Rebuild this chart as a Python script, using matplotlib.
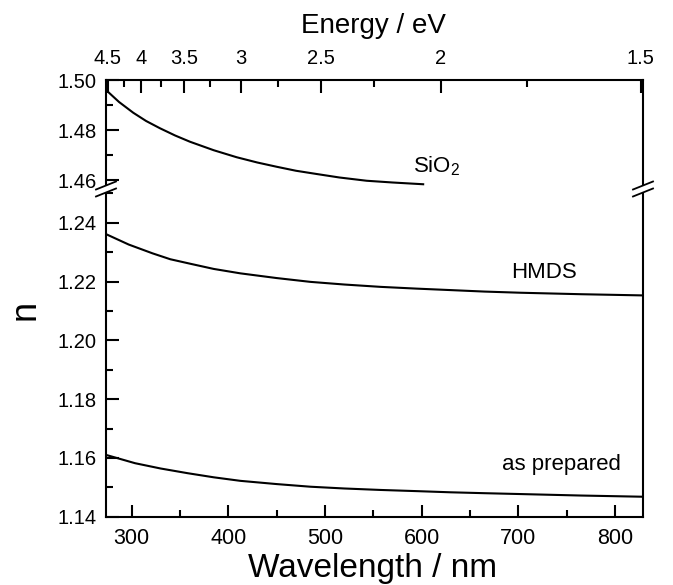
import numpy as np
import matplotlib
matplotlib.use('Agg')
import matplotlib.pyplot as plt
from matplotlib.ticker import MultipleLocator, FixedLocator
from matplotlib.patches import Polygon
from matplotlib.lines import Line2D

plt.rcParams['font.family'] = ['Liberation Sans', 'DejaVu Sans']
plt.rcParams['mathtext.fontset'] = 'custom'
plt.rcParams['mathtext.rm'] = 'Liberation Sans'
plt.rcParams['mathtext.it'] = 'Liberation Sans:italic'

sio2_wl = [273.5, 287, 301.7, 315, 329.3, 345, 360.4, 385, 408.7, 430, 450, 470, 491.4, 515, 543.1, 570, 601.6]
sio2_n = [1.4960, 1.4912, 1.4869, 1.4836, 1.4807, 1.4778, 1.4753, 1.4719, 1.4691, 1.4670, 1.4653, 1.4637,
          1.4624, 1.4610, 1.4597, 1.4590, 1.4583]

hmds_wl = [273.8, 297, 321.7, 340, 361.6, 385, 412.5, 450, 485, 520, 557.6, 595, 630.2, 665, 702.7, 765, 827.9]
hmds_n = [1.2361, 1.2326, 1.2296, 1.2276, 1.2260, 1.2243, 1.2228, 1.2212, 1.2199, 1.2190, 1.2182, 1.2176,
          1.2171, 1.2166, 1.2162, 1.2157, 1.2153]

prep_wl = [273.8, 303.6, 330, 358, 385, 412.5, 450, 485, 520, 557.6, 595, 630.2, 665, 702.7, 765, 827.9]
prep_n = [1.1610, 1.1582, 1.1564, 1.1548, 1.1534, 1.1522, 1.1511, 1.1502, 1.1496, 1.1491, 1.1487, 1.1483,
          1.1480, 1.1477, 1.1472, 1.1468]

energy_major = [4.5, 4, 3.5, 3, 2.5, 2, 1.5]
energy_labels = ['4.5', '4', '3.5', '3', '2.5', '2', '1.5']
energy_minor = [4.25, 3.75, 3.25, 2.75, 2.25, 1.75]

W, H = 673, 585
fig = plt.figure(figsize=(W / 100, H / 100), dpi=100)

def fx(px):
    return px / W

def fy(py):
    return 1 - py / H

left, right, top, brk, bottom = 106, 643, 80, 189, 516.7
ax_bot = fig.add_axes([fx(left), fy(bottom), fx(right) - fx(left), fy(brk) - fy(bottom)])
ax_top = fig.add_axes([fx(left), fy(brk), fx(right) - fx(left), fy(top) - fy(brk)])

lw = 1.5
xlim = (273.5, 829)

# energy scale on top (twiny first, it resets the bottom ticks of ax_top)
ax_e = ax_top.twiny()

for ax in (ax_bot, ax_top):
    ax.set_xlim(*xlim)
    for s in ax.spines.values():
        s.set_linewidth(lw)
    ax.tick_params(which='both', direction='in', width=lw, labelsize=14.5, right=False)
    ax.tick_params(which='major', length=9)
    ax.tick_params(which='minor', length=5)
    ax.tick_params(axis='y', pad=7)

ax_bot.spines['top'].set_visible(False)
ax_top.spines['bottom'].set_visible(False)

ax_bot.plot(hmds_wl, hmds_n, color='black', lw=lw)
ax_bot.plot(prep_wl, prep_n, color='black', lw=lw)
ax_top.plot(sio2_wl, sio2_n, color='black', lw=lw)

ax_bot.set_ylim(1.14, 1.2515)
ax_bot.yaxis.set_major_locator(FixedLocator([1.14, 1.16, 1.18, 1.20, 1.22, 1.24]))
ax_bot.yaxis.set_minor_locator(FixedLocator([1.15, 1.17, 1.19, 1.21, 1.23, 1.25]))
ax_bot.yaxis.set_major_formatter(plt.FormatStrFormatter('%.2f'))
ax_bot.xaxis.set_major_locator(MultipleLocator(100))
ax_bot.xaxis.set_minor_locator(MultipleLocator(50))
ax_bot.tick_params(axis='x', which='both', top=False, pad=8, labelsize=15.5)

ax_top.set_ylim(1.4564, 1.50)
ax_top.yaxis.set_major_locator(FixedLocator([1.46, 1.48, 1.50]))
ax_top.yaxis.set_minor_locator(FixedLocator([1.47, 1.49]))
ax_top.yaxis.set_major_formatter(plt.FormatStrFormatter('%.2f'))
ax_top.tick_params(axis='x', which='both', bottom=False, top=False, labelbottom=False, labeltop=False)

ax_e.set_xlim(*xlim)
ax_e.set_xticks([1240 / e for e in energy_major])
ax_e.set_xticklabels(energy_labels)
ax_e.set_xticks([1240 / e for e in energy_minor], minor=True)
ax_e.tick_params(which='both', direction='in', width=lw, labelsize=14.5, pad=9, bottom=False)
ax_e.tick_params(which='major', length=9)
ax_e.tick_params(which='minor', length=5)
for s in ax_e.spines.values():
    s.set_visible(False)

# curve labels
ax_top.text(615, 1.4656, 'SiO$_2$', fontsize=16, ha='center', va='center')
ax_bot.text(727, 1.2232, 'HMDS', fontsize=16, ha='center', va='center')
ax_bot.text(745, 1.1579, 'as prepared', fontsize=16, ha='center', va='center')

# axis titles
fig.text(fx(373), fy(576.7), 'Wavelength / nm', fontsize=24, ha='center', va='baseline')
fig.text(fx(373), fy(33.3), 'Energy / eV', fontsize=20, ha='center', va='baseline')
fig.text(fx(25), fy(310), 'n', fontsize=26, ha='center', va='center', rotation=90)

# break marks
for cx in (left, right):
    dx, dy, off = 10, 4, 3.5
    poly = Polygon([(fx(cx - dx), fy(brk - off + dy)), (fx(cx + dx), fy(brk - off - dy)),
                    (fx(cx + dx), fy(brk + off - dy)), (fx(cx - dx), fy(brk + off + dy))],
                   closed=True, transform=fig.transFigure, facecolor='white', edgecolor='none', zorder=10)
    fig.patches.append(poly)
    for o in (-off, off):
        fig.lines.append(Line2D([fx(cx - dx), fx(cx + dx)], [fy(brk + o + dy), fy(brk + o - dy)],
                                transform=fig.transFigure, color='black', lw=1.3, zorder=11))

fig.savefig('out.png', dpi=100)
